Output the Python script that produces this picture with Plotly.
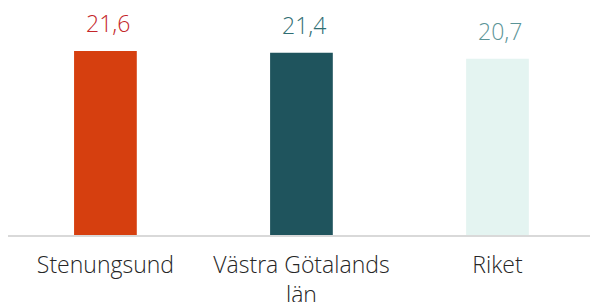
import plotly.graph_objects as go

categories = ["Stenungsund", "Västra Götalands<br>län", "Riket"]
values = [21.6, 21.4, 20.7]
value_labels = ["21,6", "21,4", "20,7"]
bar_colors = ["#D63F0F", "#1F545D", "#E4F4F1"]
label_colors = ["#C4262A", "#2F6E73", "#5B9497"]

fig = go.Figure()
fig.add_trace(go.Bar(
    x=list(range(len(categories))),
    y=values,
    marker=dict(color=bar_colors, line=dict(width=0)),
    width=0.32,
    hoverinfo="skip",
))

for i, (v, t, c) in enumerate(zip(values, value_labels, label_colors)):
    fig.add_annotation(
        x=i, y=v, text=t, showarrow=False,
        xanchor="center", yanchor="bottom", yshift=10, xshift=3,
        font=dict(family="Open Sans", size=23, color=c, weight=300),
    )

fig.update_layout(
    width=590, height=302,
    margin=dict(l=8, r=0, t=10, b=67, autoexpand=False),
    paper_bgcolor="white", plot_bgcolor="white",
    showlegend=False,
    font=dict(family="Open Sans", size=23, color="#262626"),
    xaxis=dict(
        range=[-0.497, 2.472],
        tickmode="array",
        tickvals=list(range(len(categories))),
        ticktext=categories,
        showline=True, linecolor="#D9D9D9", linewidth=2,
        showgrid=False, zeroline=False, ticks="",
        ticklabelstandoff=8,
        automargin=False,
        tickfont=dict(family="Open Sans", size=23, color="#262626", weight=300),
        fixedrange=True,
    ),
    yaxis=dict(
        range=[0, 26.41],
        visible=False, showgrid=False, zeroline=False,
        automargin=False,
        fixedrange=True,
    ),
)

fig.write_html("out.html", config={"displayModeBar": False},
               post_script="document.body.style.margin='0';")
